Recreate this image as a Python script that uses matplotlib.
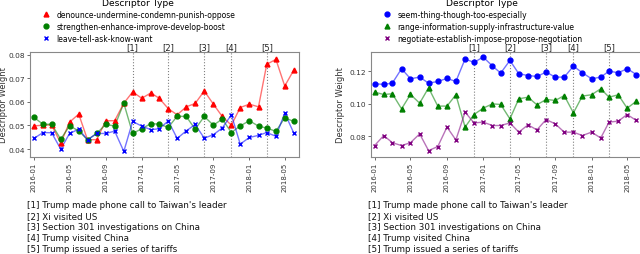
import matplotlib
matplotlib.use("Agg")
import matplotlib.pyplot as plt
import pandas as pd

months = pd.date_range("2016-01-01", periods=30, freq="MS")

# Left panel
denounce = [0.0498, 0.0501, 0.0502, 0.0425, 0.0514, 0.0548, 0.0439, 0.0440, 0.0520, 0.0520,
            0.0594, 0.0642, 0.0615, 0.0638, 0.0615, 0.0571, 0.0545, 0.0579, 0.0593, 0.0646,
            0.0590, 0.0538, 0.0501, 0.0576, 0.0590, 0.0579, 0.0759, 0.0780, 0.0667, 0.0735]
strengthen = [0.0534, 0.0505, 0.0505, 0.0442, 0.0498, 0.0477, 0.0439, 0.0466, 0.0505, 0.0497,
              0.0594, 0.0466, 0.0486, 0.0508, 0.0505, 0.0492, 0.0539, 0.0538, 0.0484, 0.0538,
              0.0501, 0.0527, 0.0470, 0.0498, 0.0520, 0.0497, 0.0489, 0.0475, 0.0532, 0.0517]
leave = [0.0445, 0.0470, 0.0469, 0.0400, 0.0466, 0.0484, 0.0439, 0.0466, 0.0466, 0.0476,
         0.0390, 0.0517, 0.0497, 0.0482, 0.0486, 0.0519, 0.0445, 0.0477, 0.0504, 0.0446,
         0.0461, 0.0489, 0.0545, 0.0421, 0.0449, 0.0458, 0.0470, 0.0454, 0.0552, 0.0467]

# Right panel
seem = [0.1124, 0.1120, 0.1128, 0.1217, 0.1155, 0.1165, 0.1128, 0.1138, 0.1157, 0.1138,
        0.1277, 0.1256, 0.1289, 0.1234, 0.1190, 0.1268, 0.1186, 0.1175, 0.1169, 0.1196,
        0.1165, 0.1165, 0.1233, 0.1192, 0.1155, 0.1165, 0.1202, 0.1192, 0.1217, 0.1181]
range_info = [0.1072, 0.1058, 0.1062, 0.0969, 0.1058, 0.1004, 0.1099, 0.0986, 0.0986, 0.1056,
              0.0856, 0.0934, 0.0973, 0.1000, 0.0996, 0.0907, 0.1031, 0.1041, 0.0994, 0.1027,
              0.1021, 0.1051, 0.0944, 0.1048, 0.1056, 0.1093, 0.1041, 0.1056, 0.0973, 0.1016]
negotiate = [0.0742, 0.0804, 0.0760, 0.0742, 0.0760, 0.0814, 0.0711, 0.0736, 0.0856, 0.0777,
             0.0949, 0.0882, 0.0887, 0.0866, 0.0866, 0.0882, 0.0825, 0.0870, 0.0839, 0.0903,
             0.0876, 0.0825, 0.0825, 0.0804, 0.0825, 0.0789, 0.0887, 0.0893, 0.0934, 0.0897]

event_dates = pd.to_datetime(["2016-12-01", "2017-04-01", "2017-08-01", "2017-11-01", "2018-03-01"])
event_labels = ["[1]", "[2]", "[3]", "[4]", "[5]"]
event_notes = ["[1] Trump made phone call to Taiwan's leader",
               "[2] Xi visited US",
               "[3] Section 301 investigations on China",
               "[4] Trump visited China",
               "[5] Trump issued a series of tariffs"]
tick_dates = pd.date_range("2016-01-01", "2018-05-01", freq="4MS")
tick_labels = [d.strftime("%Y-%m") for d in tick_dates]

left_series = [("denounce-undermine-condemn-punish-oppose", denounce, "red", "^"),
               ("strengthen-enhance-improve-develop-boost", strengthen, "green", "o"),
               ("leave-tell-ask-know-want", leave, "blue", "x")]
right_series = [("seem-thing-though-too-especially", seem, "blue", "o"),
                ("range-information-supply-infrastructure-value", range_info, "green", "^"),
                ("negotiate-establish-impose-propose-negotiation", negotiate, "purple", "x")]

plt.rcParams['font.family'] = ['DejaVu Sans']
fig = plt.figure(figsize=(6.4, 2.55), dpi=100)
axL = fig.add_axes([0.0470, 0.382, 0.4200, 0.410])
axR = fig.add_axes([0.5792, 0.382, 0.4230, 0.410])

xmin = pd.Timestamp("2015-12-19")
xmax = pd.Timestamp("2018-06-18")

def draw(ax, series, ylim, yticks, legend_x, ylabel_x):
    handles = []
    for name, vals, col, mk in series:
        ax.plot(months, vals, color=col, alpha=0.55, lw=1.0, zorder=2)
        ax.plot(months, vals, ls="none", marker=mk, color=col, ms=3.5, mew=1.0, zorder=3)
        h, = ax.plot([], [], ls="none", marker=mk, color=col, ms=3.5, mew=1.0, label=name)
        handles.append(h)
    for d, lab in zip(event_dates, event_labels):
        ax.axvline(d, color="gray", ls=":", lw=0.8, zorder=1)
        ax.text(d, 1.004, lab, transform=ax.get_xaxis_transform(), ha="center", va="bottom",
                fontsize=6, color="#222222")
    ax.set_xlim(xmin, xmax)
    ax.set_ylim(*ylim)
    ax.set_yticks(yticks)
    ax.set_yticklabels(["%.2f" % v for v in yticks], fontsize=5.3, color="#333333")
    ax.set_xticks(tick_dates)
    ax.set_xticklabels(tick_labels, rotation=90, fontsize=5, color="#333333")
    ax.tick_params(length=2, width=0.6, color="#555555", pad=1.5)
    for s in ax.spines.values():
        s.set_color("#888888")
        s.set_linewidth(0.8)
    ax.set_ylabel("Descriptor Weight", fontsize=6, color="#333333")
    ax.yaxis.set_label_coords(ylabel_x, 0.5)
    leg = fig.legend(handles=handles, loc="upper center", bbox_to_anchor=(legend_x, 1.025),
                     frameon=False, fontsize=5.5, title="Descriptor Type", title_fontsize=6.6,
                     handletextpad=0.6, labelspacing=0.38, borderpad=0.2, handlelength=1.5)
    return leg

draw(axL, left_series, (0.0368, 0.0811), [0.04, 0.05, 0.06, 0.07, 0.08], 138 / 640, -0.082)
draw(axR, right_series, (0.0674, 0.132), [0.08, 0.10, 0.12], 482 / 640, -0.095)

for i, note in enumerate(event_notes):
    fig.text(26.7 / 640, 1 - (206 + 10.8 * i) / 255, note, fontsize=6.3, va="center", ha="left",
             color="#111111")
    fig.text(368.3 / 640, 1 - (206 + 10.8 * i) / 255, note, fontsize=6.3, va="center", ha="left",
             color="#111111")

fig.savefig("out.png", dpi=100)
